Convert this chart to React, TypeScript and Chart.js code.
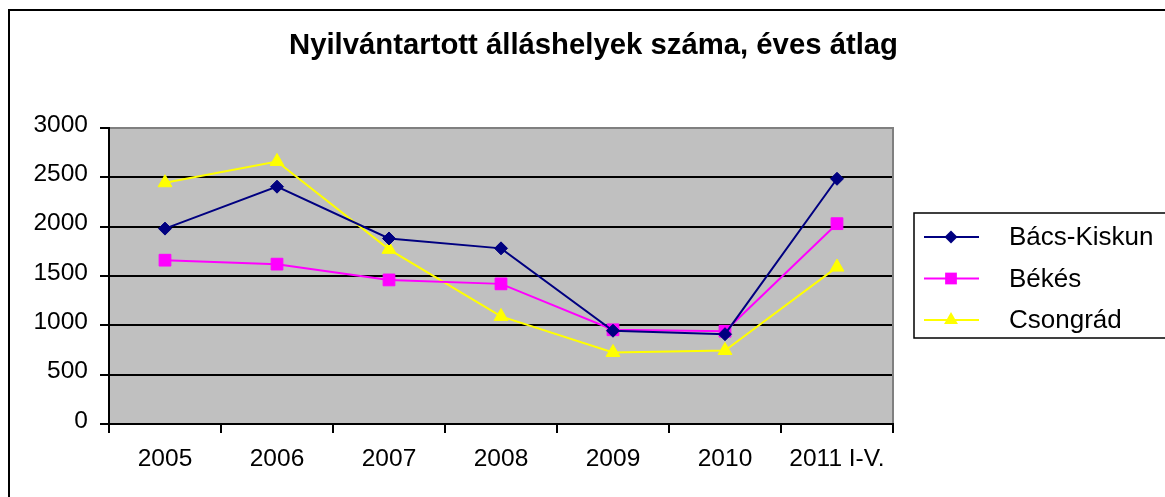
import React, { useEffect, useRef } from "react";
import { Chart, registerables } from "chart.js";

Chart.register(...registerables);

const categories = ["2005", "2006", "2007", "2008", "2009", "2010", "2011 I-V."];
const bacsKiskun = [1980, 2405, 1880, 1780, 945, 910, 2485];
const bekes = [1660, 1620, 1460, 1420, 955, 940, 2030];
const csongrad = [2445, 2660, 1770, 1090, 725, 745, 1590];
const seriesNames = ["Bács-Kiskun", "Békés", "Csongrád"];
const yMin = 0;
const yMax = 3000;
const yStep = 500;
const titleText = "Nyilvántartott álláshelyek száma, éves átlag";

const FONT = "'Liberation Sans', Arial, sans-serif";

function drawMarker(ctx: CanvasRenderingContext2D, style: string, x: number, y: number, r: number) {
  ctx.beginPath();
  if (style === "rectRot") {
    ctx.moveTo(x - r, y);
    ctx.lineTo(x, y - r);
    ctx.lineTo(x + r, y);
    ctx.lineTo(x, y + r);
  } else if (style === "rect") {
    const s = Math.SQRT1_2 * r;
    ctx.rect(x - s, y - s, 2 * s, 2 * s);
  } else {
    ctx.moveTo(x, y - r);
    ctx.lineTo(x + 0.866 * r, y + 0.5 * r);
    ctx.lineTo(x - 0.866 * r, y + 0.5 * r);
  }
  ctx.closePath();
  ctx.fill();
}

const framePlugin = {
  id: "framePlugin",
  afterLayout(chart: any) {
    if (chart.titleBlock) {
      chart.titleBlock.left = 22;
      chart.titleBlock.right = chart.width;
    }
  },
  beforeDraw(chart: any) {
    const { ctx, chartArea } = chart;
    ctx.save();
    ctx.fillStyle = "#ffffff";
    ctx.fillRect(0, 0, chart.width, chart.height);
    ctx.strokeStyle = "#000000";
    ctx.lineWidth = 2;
    ctx.strokeRect(9, 10, chart.width + 20, chart.height + 20);
    ctx.fillStyle = "#C0C0C0";
    ctx.fillRect(chartArea.left, chartArea.top, chartArea.right - chartArea.left, chartArea.bottom - chartArea.top);
    ctx.restore();
  },
  beforeDatasetsDraw(chart: any) {
    const { ctx, chartArea } = chart;
    ctx.save();
    ctx.strokeStyle = "#808080";
    ctx.lineWidth = 2;
    ctx.beginPath();
    ctx.moveTo(chartArea.left + 1, chartArea.top);
    ctx.lineTo(chartArea.right, chartArea.top);
    ctx.lineTo(chartArea.right, chartArea.bottom - 1);
    ctx.stroke();
    ctx.restore();
  },
  afterDraw(chart: any) {
    const { ctx } = chart;
    ctx.save();
    ctx.strokeStyle = "#000000";
    ctx.lineWidth = 1.5;
    ctx.strokeRect(914, 213, 300, 125);
    chart.data.datasets.forEach((ds: any, i: number) => {
      const y = 237 + i * 41.5;
      ctx.strokeStyle = ds.borderColor;
      ctx.lineWidth = 2;
      ctx.beginPath();
      ctx.moveTo(924, y);
      ctx.lineTo(979, y);
      ctx.stroke();
      ctx.fillStyle = ds.borderColor;
      drawMarker(ctx, ds.pointStyle, 951, y, ds.pointRadius);
      ctx.fillStyle = "#000000";
      ctx.font = `26px ${FONT}`;
      ctx.textBaseline = "middle";
      ctx.textAlign = "left";
      ctx.fillText(ds.label, 1009, y + 1);
    });
    ctx.restore();
  },
};

export default function App() {
  const ref = useRef<HTMLCanvasElement | null>(null);
  useEffect(() => {
    if (!ref.current) return;
    const mk = (label: string, data: number[], color: string, style: string, r: number) => ({
      label,
      data,
      borderColor: color,
      backgroundColor: color,
      pointBackgroundColor: color,
      pointBorderColor: color,
      pointBorderWidth: 1,
      pointStyle: style,
      pointRadius: r,
      borderWidth: 2,
      tension: 0,
    });
    const chart = new Chart(ref.current, {
      type: "line",
      data: {
        labels: categories,
        datasets: [
          mk(seriesNames[0], bacsKiskun, "#000080", "rectRot", 6.5),
          mk(seriesNames[1], bekes, "#FF00FF", "rect", 8.3),
          mk(seriesNames[2], csongrad, "#FFFF00", "triangle", 8),
        ],
      },
      options: {
        responsive: false,
        animation: false,
        layout: { padding: { left: 0, top: 10, right: 272, bottom: 0 } },
        plugins: {
          legend: { display: false },
          tooltip: { enabled: false },
          title: {
            display: true,
            text: titleText,
            color: "#000000",
            font: { family: FONT, size: 29.3, weight: "bold", lineHeight: 1.2 },
            padding: { top: 18, bottom: 64.8 },
          },
        },
        scales: {
          x: {
            offset: true,
            grid: {
              offset: true,
              drawOnChartArea: false,
              drawTicks: true,
              tickLength: 9,
              color: "#000000",
              lineWidth: 2,
            },
            border: { color: "#000000", width: 2 },
            ticks: {
              color: "#000000",
              font: { family: FONT, size: 24.5 },
              padding: 12,
              maxRotation: 0,
              autoSkip: false,
            },
            afterFit(scale: any) {
              scale.height = 73;
            },
          },
          y: {
            min: yMin,
            max: yMax,
            grid: {
              color: "#000000",
              lineWidth: 2,
              tickLength: 9,
            },
            border: { color: "#000000", width: 2 },
            ticks: {
              stepSize: yStep,
              color: "#000000",
              font: { family: FONT, size: 24.5 },
              padding: 12,
              labelOffset: -3,
              callback: (v: any) => String(v),
            },
            afterFit(scale: any) {
              scale.width = 109;
            },
          },
        },
      },
      plugins: [framePlugin],
    } as any);
    return () => chart.destroy();
  }, []);
  return (
    <div style={{ position: "fixed", left: 0, top: 0, width: 1165, height: 497, background: "#fff" }}>
      <canvas ref={ref} width={1165} height={497} style={{ width: 1165, height: 497, display: "block" }} />
    </div>
  );
}
